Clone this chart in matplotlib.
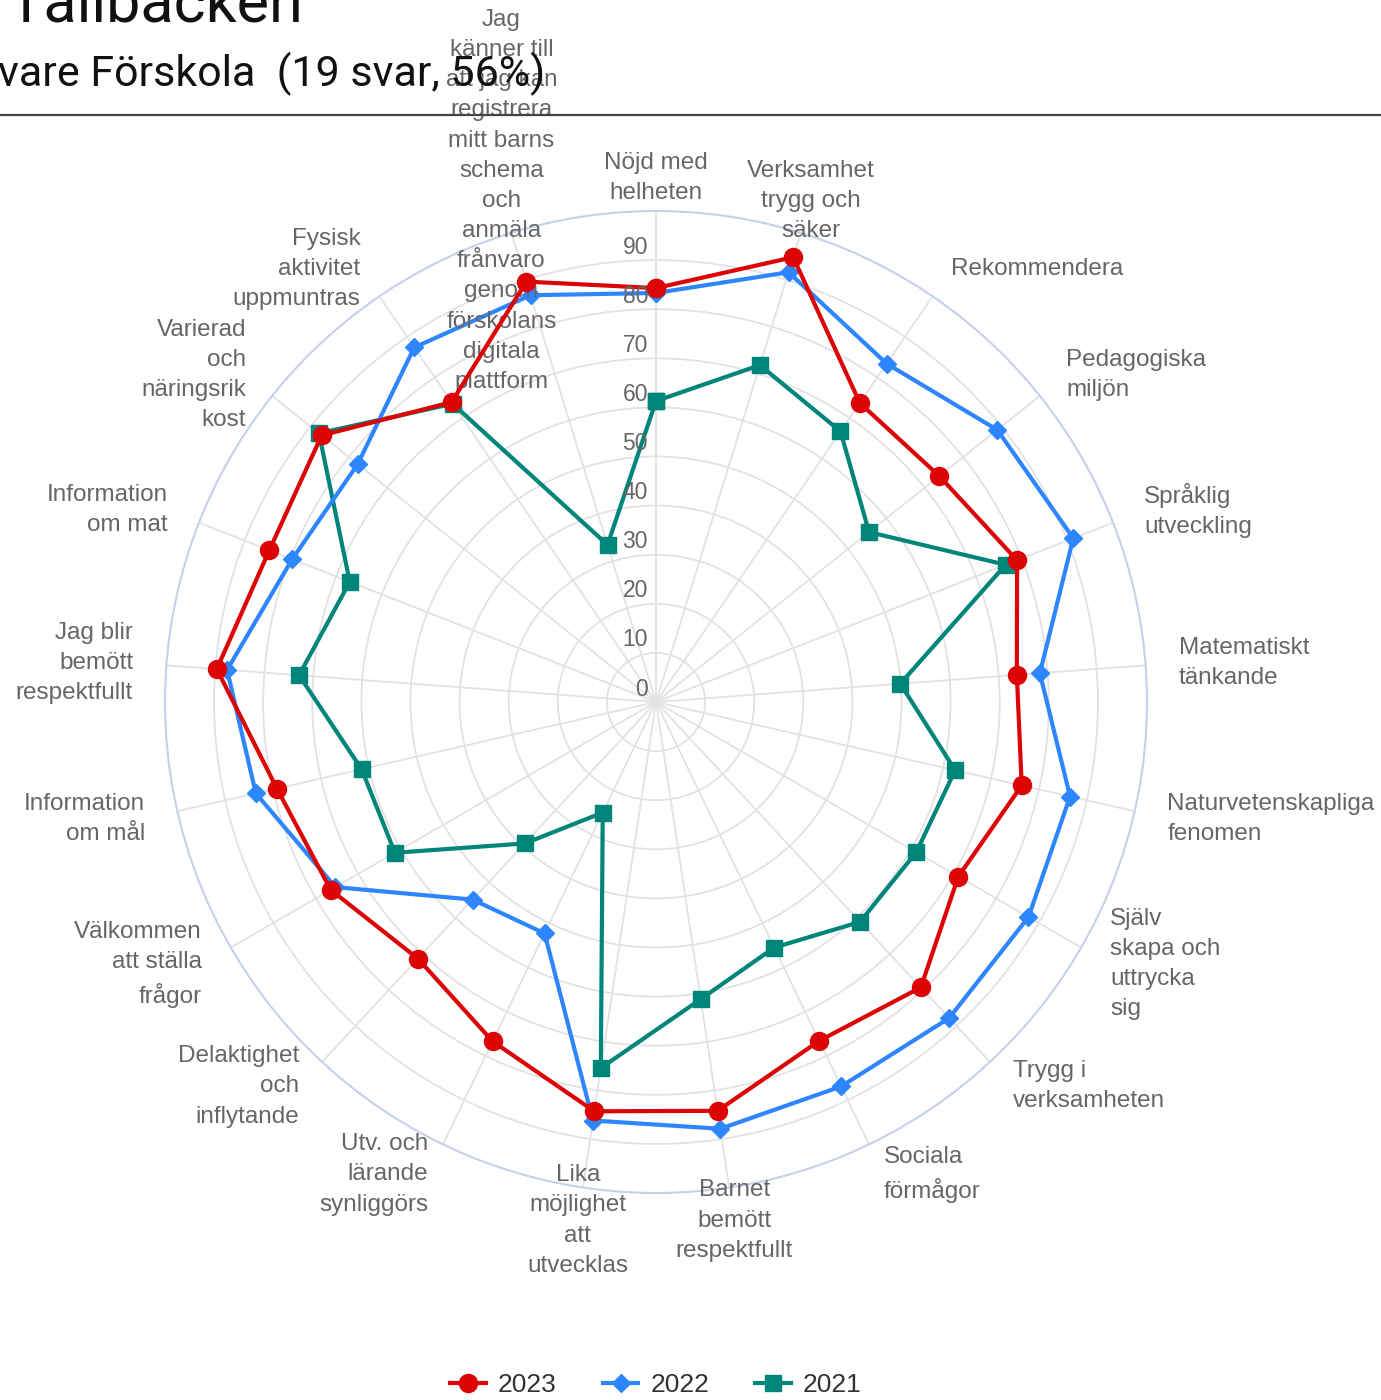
import numpy as np
import matplotlib.pyplot as plt
from matplotlib.lines import Line2D
from matplotlib.transforms import offset_copy

plt.rcParams['font.family'] = ['Liberation Sans', 'DejaVu Sans']

categories = [
    "Nöjd med\nhelheten",
    "Verksamhet\ntrygg och\nsäker",
    "Rekommendera",
    "Pedagogiska\nmiljön",
    "Språklig\nutveckling",
    "Matematiskt\ntänkande",
    "Naturvetenskapliga\nfenomen",
    "Själv\nskapa och\nuttrycka\nsig",
    "Trygg i\nverksamheten",
    "Sociala\nförmågor",
    "Barnet\nbemött\nrespektfullt",
    "Lika\nmöjlighet\natt\nutvecklas",
    "Utv. och\nlärande\nsynliggörs",
    "Delaktighet\noch\ninflytande",
    "Välkommen\natt ställa\nfrågor",
    "Information\nom mål",
    "Jag blir\nbemött\nrespektfullt",
    "Information\nom mat",
    "Varierad\noch\nnäringsrik\nkost",
    "Fysisk\naktivitet\nuppmuntras",
    "Jag\nkänner till\natt jag kan\nregistrera\nmitt barns\nschema\noch\nanmäla\nfrånvaro\ngenom\nförskolans\ndigitala\nplattform",
]

v2023 = [84.3, 94.8, 73.7, 73.8, 79.0, 73.7, 76.4, 71.1, 79.3, 76.6, 84.2,
         84.3, 76.7, 71.3, 76.5, 79.2, 89.7, 84.6, 87.1, 73.9, 89.6]
v2022 = [83.3, 91.6, 83.4, 88.9, 91.3, 78.4, 86.5, 87.6, 87.8, 86.9, 87.9,
         86.2, 52.3, 54.9, 75.4, 83.6, 87.6, 79.6, 77.7, 87.4, 86.7]
v2021 = [61.3, 71.8, 66.7, 55.5, 76.5, 49.9, 62.5, 61.2, 61.1, 55.5, 61.2,
         75.4, 25.0, 39.3, 61.4, 61.5, 72.9, 67.0, 87.8, 73.5, 33.5]

series = [
    ("2023", v2023, "#dc0404", "o", 13, 4),
    ("2022", v2022, "#2e86ff", "D", 9, 3),
    ("2021", v2021, "#00857a", "s", 12, 2),
]
rings = list(range(0, 100, 10))

W, H = 1381, 1400
fig = plt.figure(figsize=(W / 100, H / 100), dpi=100)

cx, cy, R = 656, 702, 491
ax = fig.add_axes([(cx - R) / W, (H - cy - R) / H, 2 * R / W, 2 * R / H],
                  projection='polar')
ax.set_theta_zero_location('N')
ax.set_theta_direction(-1)
ax.set_ylim(0, 100)

n = len(categories)
angles = np.arange(n) * 2 * np.pi / n
ax.set_xticks(angles)
ax.set_xticklabels([])
ax.set_yticks(rings[1:])
ax.set_yticklabels([])
ax.tick_params(length=0)
ax.grid(True, color='#e2e2e2', lw=1.3)
ax.spines['polar'].set_color('#c5d1ea')
ax.spines['polar'].set_linewidth(1.5)

closed = np.append(angles, angles[0])
for name, vals, col, mk, ms, z in series:
    ax.plot(closed, vals + vals[:1], color=col, lw=3, marker=mk, ms=ms,
            label=name, zorder=z, clip_on=False)

# radial value labels along the top spoke
tr = offset_copy(ax.transData, fig=fig, x=-8, y=13, units='dots')
for r in rings:
    ax.text(0, r, str(r), transform=tr, ha='right', va='center',
            fontsize=16.5, color='#666666', zorder=6)

# category labels outside the circle
for a, lab in zip(angles, categories):
    s = np.sin(a)
    if abs(s) < 0.35:
        ha = 'center'
    elif s > 0:
        ha = 'left'
    else:
        ha = 'right'
    ax.text(a, 106.8, lab, ha=ha, va='center', fontsize=17.5,
            color='#666666', linespacing=1.48)

handles, labels = ax.get_legend_handles_labels()
fig.legend(handles, labels, loc='center', bbox_to_anchor=(cx / W, 15 / H),
           ncol=3, frameon=False, fontsize=19, handlelength=1.35,
           columnspacing=1.75, handletextpad=0.45, labelcolor='#333333')

# header
fig.text(303 / W, 1 - 22 / H, "Tallbacken", ha='right', va='baseline',
         fontsize=44, family=['Roboto', 'DejaVu Sans'], color='#111111')
fig.text(545 / W, 1 - 86 / H, "vare Förskola  (19 svar, 56%)", ha='right',
         va='baseline', fontsize=31, family=['Roboto', 'DejaVu Sans'],
         color='#111111')
fig.add_artist(Line2D([0, 1], [1 - 115 / H] * 2, transform=fig.transFigure,
                      color='#444444', lw=1.6))

fig.savefig('out.png', dpi=100)
